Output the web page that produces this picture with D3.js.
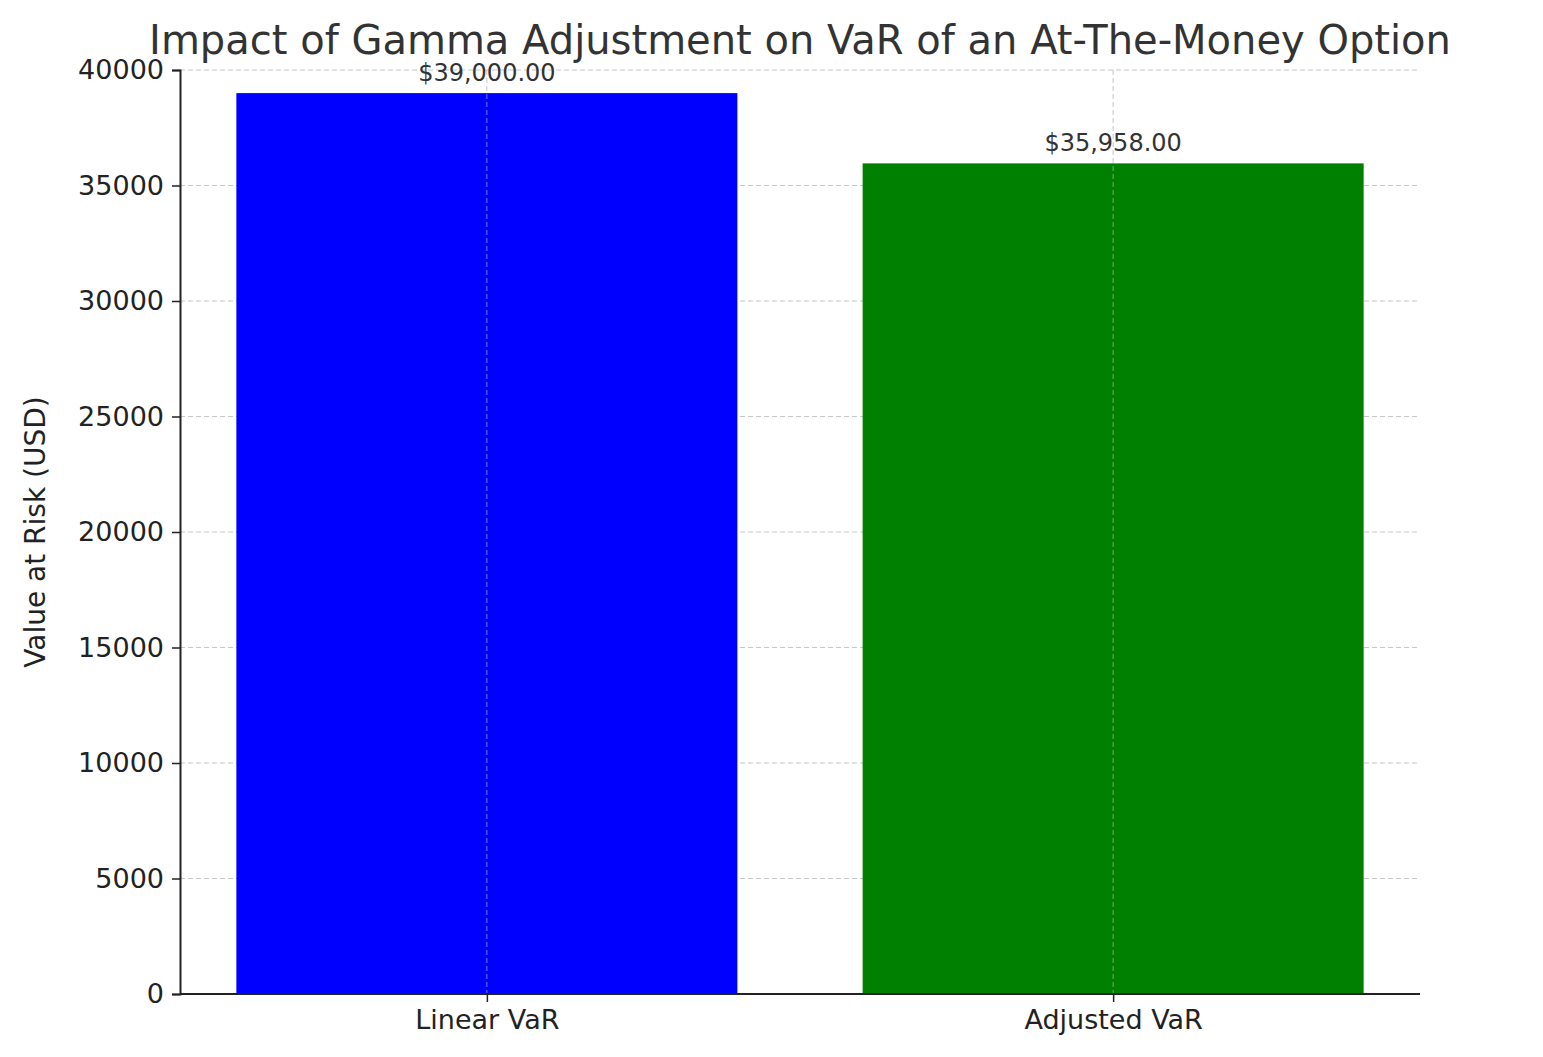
<!DOCTYPE html>
<html>
<head>
<meta charset="utf-8">
<script src="https://cdn.jsdelivr.net/npm/d3@7"></script>
<style>
  body { margin: 0; background: #fff; }
  text { font-family: "DejaVu Sans", sans-serif; }
</style>
</head>
<body>
<svg id="chart" width="1543" height="1057"></svg>
<script>
// Chart data
const categories = ["Linear VaR", "Adjusted VaR"];
const values = [39000, 35958];
const barColors = ["#0000ff", "#008000"];
const yTicks = [0, 5000, 10000, 15000, 20000, 25000, 30000, 35000, 40000];

const svg = d3.select("#chart");
const mLeft = 180, mRight = 1420, mTop = 70, mBottom = 994;

// x positions by category index, like matplotlib
const x = d3.scaleLinear().domain([-0.49, 1.49]).range([mLeft, mRight]);
const y = d3.scaleLinear().domain([0, 40000]).range([mBottom, mTop]);
const barW = x(0.8) - x(0);

// grid lines
svg.append("g").selectAll("line").data(yTicks).enter().append("line")
  .attr("x1", mLeft).attr("x2", mRight)
  .attr("y1", d => y(d)).attr("y2", d => y(d))
  .attr("stroke", "#b0b0b0").attr("stroke-width", 1).attr("stroke-dasharray", "5,3").attr("opacity", 0.7);

// bars
svg.append("g").selectAll("rect").data(values).enter().append("rect")
  .attr("x", (d, i) => x(i) - barW / 2)
  .attr("width", barW)
  .attr("y", d => y(d))
  .attr("height", d => y(0) - y(d))
  .attr("fill", (d, i) => barColors[i]);

// vertical grid (drawn over bars as in reference)
svg.append("g").selectAll("line").data(categories).enter().append("line")
  .attr("x1", (d, i) => x(i)).attr("x2", (d, i) => x(i))
  .attr("y1", mTop).attr("y2", mBottom)
  .attr("stroke", "#b0b0b0").attr("stroke-width", 1).attr("stroke-dasharray", "5,3").attr("opacity", 0.7);

// value labels
svg.append("g").selectAll("text").data(values).enter().append("text")
  .attr("x", (d, i) => x(i))
  .attr("y", d => y(d) - 12)
  .attr("text-anchor", "middle")
  .attr("font-size", 24).attr("fill", "#333")
  .text(d => "$" + d3.format(",.2f")(d));

// axes
const yAxis = d3.axisLeft(y).tickValues(yTicks).tickSize(8).tickPadding(8).tickFormat(d3.format("d"));
const gy = svg.append("g").attr("transform", `translate(${mLeft},0)`).call(yAxis);
gy.selectAll("text").attr("font-size", 27).attr("fill", "#222").style("font-family", "DejaVu Sans");
gy.select(".domain").attr("stroke", "#222").attr("stroke-width", 2);
gy.selectAll(".tick line").attr("stroke", "#222").attr("stroke-width", 1.5);

const xAxis = d3.axisBottom(x).tickValues([0, 1]).tickSize(8).tickPadding(8).tickFormat(i => categories[i]);
const gx = svg.append("g").attr("transform", `translate(0,${mBottom})`).call(xAxis);
gx.selectAll("text").attr("font-size", 27).attr("fill", "#222").style("font-family", "DejaVu Sans");
gx.select(".domain").attr("stroke", "#222").attr("stroke-width", 2).attr("d", `M${mLeft},0H${mRight}`);
gx.selectAll(".tick line").attr("stroke", "#222").attr("stroke-width", 1.5);

// y label
svg.append("text")
  .attr("transform", `translate(45,${(mTop + mBottom) / 2}) rotate(-90)`)
  .attr("text-anchor", "middle").attr("font-size", 28).attr("fill", "#222")
  .text("Value at Risk (USD)");

// title
svg.append("text")
  .attr("x", 800).attr("y", 54)
  .attr("text-anchor", "middle").attr("font-size", 40).attr("fill", "#333")
  .text("Impact of Gamma Adjustment on VaR of an At-The-Money Option");
</script>
</body>
</html>
